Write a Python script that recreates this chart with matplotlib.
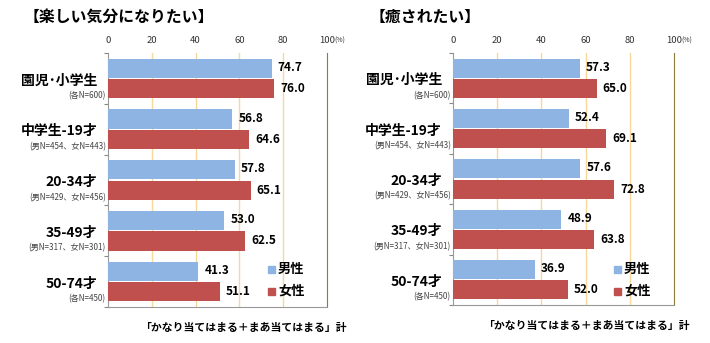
import matplotlib
matplotlib.use('Agg')
import matplotlib.pyplot as plt
import numpy as np

plt.rcParams['font.family'] = ['Noto Sans CJK JP', 'DejaVu Sans']

# datos
categorias = ['園児･小学生', '中学生-19才', '20-34才', '35-49才', '50-74才']
muestras = ['(各N=600)', '(男N=454、女N=443)', '(男N=429、女N=456)',
            '(男N=317、女N=301)', '(各N=450)']
tanoshii_m = [74.7, 56.8, 57.8, 53.0, 41.3]
tanoshii_f = [76.0, 64.6, 65.1, 62.5, 51.1]
iyasare_m = [57.3, 52.4, 57.6, 48.9, 36.9]
iyasare_f = [65.0, 69.1, 72.8, 63.8, 52.0]
ticks = [0, 20, 40, 60, 80, 100]
titulos = ['【楽しい気分になりたい】', '【癒されたい】']
pie = '「かなり当てはまる＋まあ当てはまる」計'

azul = '#8DB4E2'
rojo = '#C0504D'
W, H = 710, 343

fig = plt.figure(figsize=(W / 100, H / 100), dpi=100)


def px(x, y):
    return x / W, 1 - y / H


def panel(x0, x1, y0, y1, hombres, mujeres, titulo, tx, leg_x, pie_x, pie_y):
    ax = fig.add_axes([x0 / W, 1 - y1 / H, (x1 - x0) / W, (y1 - y0) / H])
    y = np.arange(len(categorias))
    h = 0.38
    ax.barh(y - 0.2, hombres, height=h, color=azul, zorder=3)
    ax.barh(y + 0.2, mujeres, height=h, color=rojo, zorder=3)
    for i in range(len(categorias)):
        ax.text(hombres[i] + 2.8, y[i] - 0.22, '%.1f' % hombres[i], va='center', ha='left',
                fontsize=8.5, fontweight='bold', zorder=4)
        ax.text(mujeres[i] + 2.8, y[i] + 0.2, '%.1f' % mujeres[i], va='center', ha='left',
                fontsize=8.5, fontweight='bold', zorder=4)
        ax.text(-5, y[i] + 0.04, categorias[i], ha='right', va='center',
                fontsize=10, fontweight='bold')
        ax.text(-1, y[i] + 0.34, muestras[i], ha='right', va='center',
                fontsize=5.8, color='#444444')
    ax.set_xlim(0, 100)
    ax.set_ylim(len(categorias) - 0.5, -0.5)
    ax.xaxis.tick_top()
    ax.set_xticks(ticks)
    ax.set_xticklabels([str(t) for t in ticks], fontsize=6.8, color='#333333')
    ax.tick_params(axis='x', length=0, pad=6)
    ax.set_yticks(np.arange(len(categorias) + 1) - 0.5)
    ax.set_yticklabels([])
    ax.tick_params(axis='y', length=3, color='#888888', direction='out')
    for t in [20, 40, 60, 80]:
        ax.axvline(t, color='#F7D89A', lw=1, zorder=1)
    ax.spines['top'].set_visible(False)
    ax.spines['right'].set_color('#8C7A3E')
    ax.spines['left'].set_color('#999999')
    ax.spines['bottom'].set_color('#999999')
    # (%) after 100
    fig.text(*px(x1 + 7, y0 - 12), '(%)', fontsize=5, va='center', ha='left', color='#333333')
    # titulo
    fig.text(*px(tx, 17), titulo, fontsize=11.4, fontweight='bold', va='center', ha='left')
    # leyenda
    for j, (lab, col) in enumerate([('男性', azul), ('女性', rojo)]):
        yy = 269 + j * 22
        fig.patches.append(plt.Rectangle(px(leg_x - 4, yy + 4), 7 / W, 7 / H,
                                         transform=fig.transFigure, color=col))
        fig.text(*px(leg_x + 6, yy), lab, fontsize=9.5, fontweight='bold',
                 va='center', ha='left')
    fig.text(*px(pie_x, pie_y), pie, fontsize=7.8, fontweight='bold', va='center', ha='right')
    return ax


panel(108, 327, 53, 307, tanoshii_m, tanoshii_f, titulos[0], 24, 272, 347, 328)
panel(453, 674, 53, 305, iyasare_m, iyasare_f, titulos[1], 370, 618, 690, 326)

plt.savefig('out.png', dpi=100)
